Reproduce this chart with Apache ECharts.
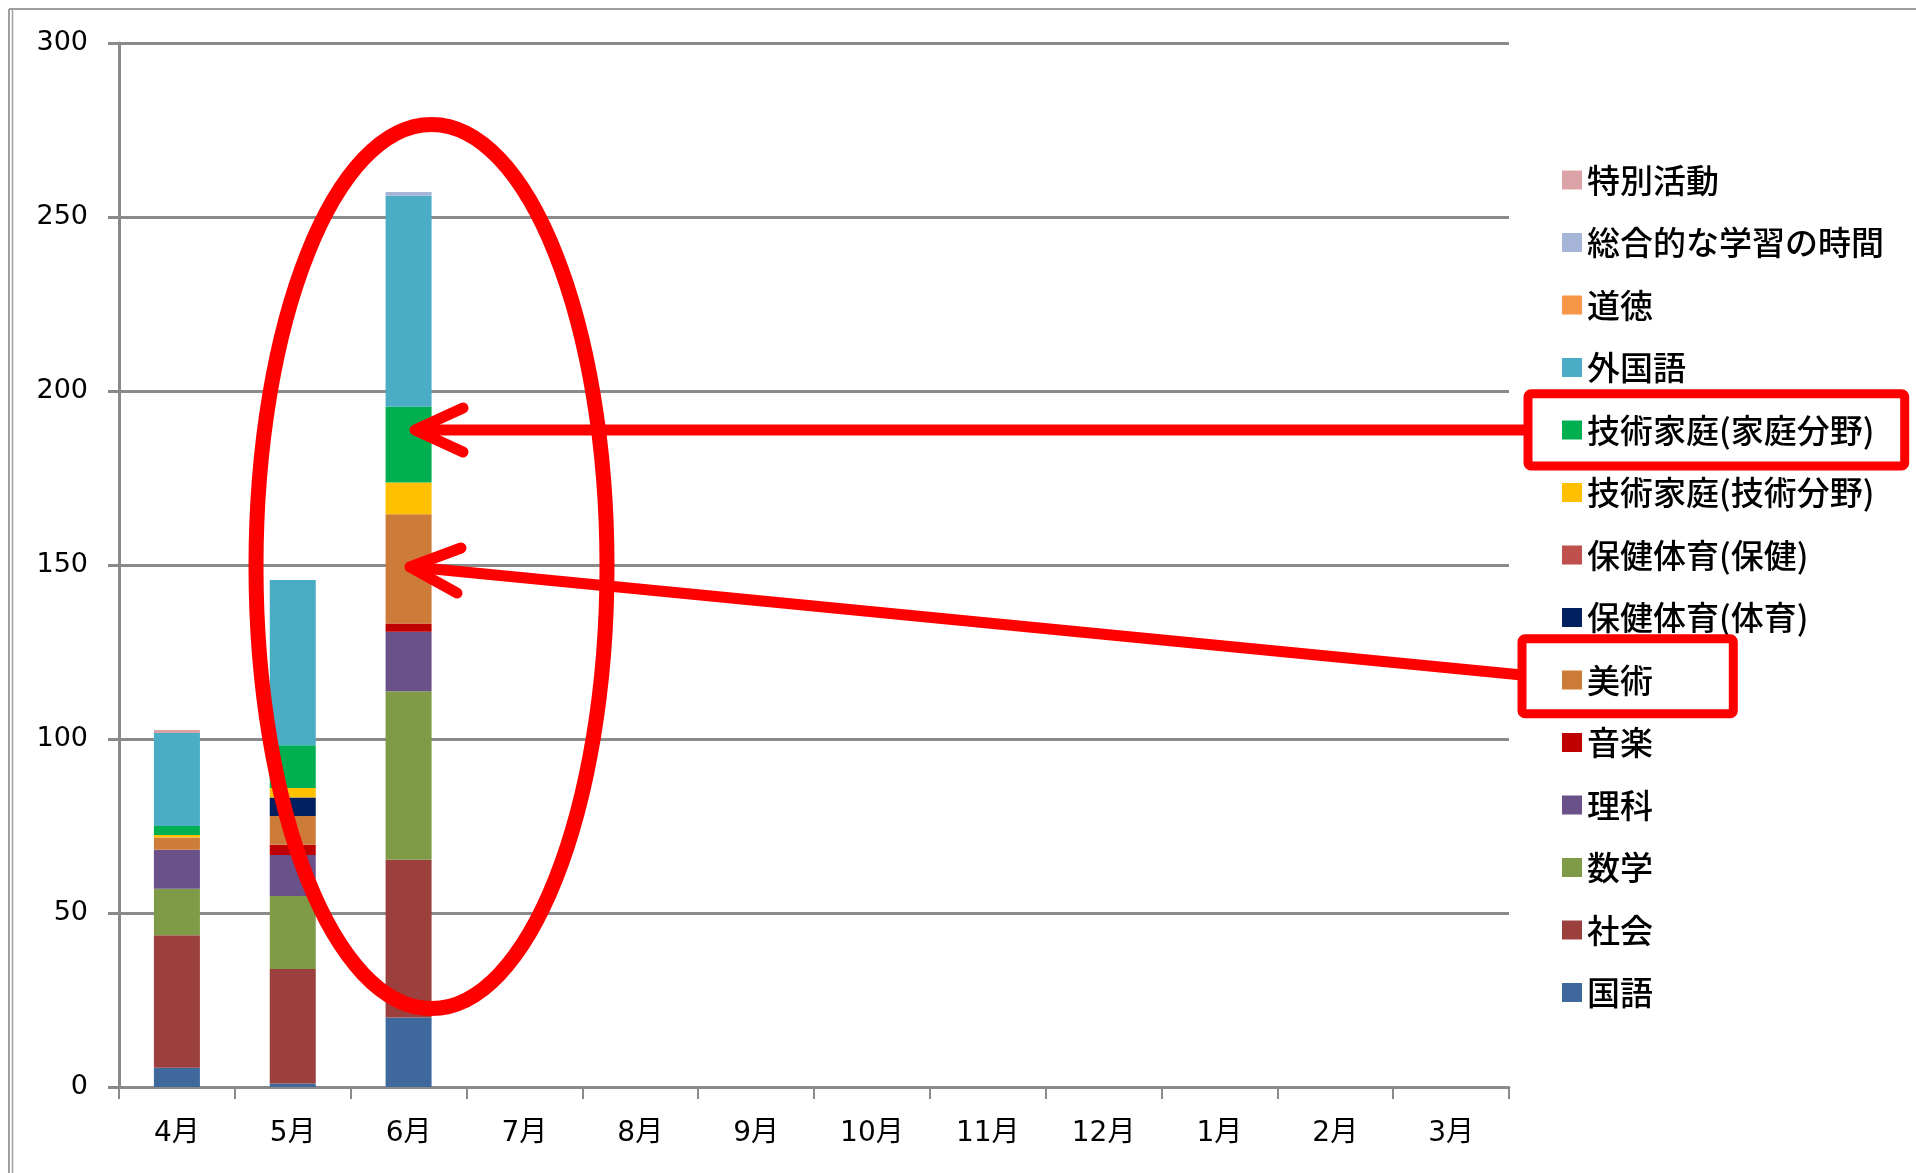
<!DOCTYPE html>
<html>
<head>
<meta charset="utf-8">
<script src="https://cdn.jsdelivr.net/npm/echarts@6/dist/echarts.min.js"></script>
<style>
html,body{margin:0;padding:0;background:#fff;}
#c{width:1916px;height:1173px;}
</style>
</head>
<body>
<div id="c"></div>
<script>
// categories
const months = ['4月','5月','6月','7月','8月','9月','10月','11月','12月','1月','2月','3月'];
// series values (only 4月〜6月 have data)
const kokugo    = [5.5, 1.0, 20.0];
const shakai    = [38.1, 32.9, 45.3];
const sugaku    = [13.4, 21.0, 48.4];
const rika      = [11.2, 11.8, 17.1];
const ongaku    = [0, 2.9, 2.4];
const bijutsu   = [3.5, 8.3, 31.4];
const taiiku    = [0, 5.3, 0];
const hoken     = [0, 0, 0];
const gijutsu   = [0.7, 2.7, 9.1];
const katei     = [2.6, 12.3, 21.8];
const gaikokugo = [26.7, 47.5, 60.6];
const dotoku    = [0, 0, 0];
const sogo      = [0, 0, 1.1];
const tokubetsu = [0.9, 0, 0];
// y ticks
const yMin = 0, yMax = 300, yStep = 50;

const seriesDefs = [
  ['国語', kokugo, '#3F699D'],
  ['社会', shakai, '#9C403E'],
  ['数学', sugaku, '#7F9B47'],
  ['理科', rika, '#6A5189'],
  ['音楽', ongaku, '#C00000'],
  ['美術', bijutsu, '#CD7B38'],
  ['保健体育(体育)', taiiku, '#002060'],
  ['保健体育(保健)', hoken, '#C0504D'],
  ['技術家庭(技術分野)', gijutsu, '#FFC000'],
  ['技術家庭(家庭分野)', katei, '#00B050'],
  ['外国語', gaikokugo, '#4BACC6'],
  ['道徳', dotoku, '#F79646'],
  ['総合的な学習の時間', sogo, '#A5B4D7'],
  ['特別活動', tokubetsu, '#DBA3A8']
];

const chart = echarts.init(document.getElementById('c'), null, {renderer:'canvas'});
const gridCol = '#8A8A8A';
const red = '#FF0000';

const option = {
  backgroundColor: '#ffffff',
  animation: false,
  grid: {left: 119, right: 407, top: 43, bottom: 86, containLabel: false},
  legend: {
    orient: 'vertical',
    left: 1557,
    top: 155,
    itemWidth: 20,
    itemHeight: 19,
    itemGap: 22.5,
    icon: 'rect',
    data: seriesDefs.map(d => d[0]).reverse(),
    textStyle: {fontFamily: '"Noto Sans CJK JP", sans-serif', fontSize: 33, fontWeight: 500, color: '#000', lineHeight: 40}
  },
  xAxis: {
    type: 'category',
    data: months,
    axisLine: {lineStyle: {color: gridCol, width: 3}},
    axisTick: {show: true, length: 12, lineStyle: {color: gridCol, width: 2}},
    axisLabel: {margin: 33, fontSize: 28, color: '#000', fontFamily: '"DejaVu Sans", "Noto Sans CJK JP", sans-serif'}
  },
  yAxis: {
    type: 'value',
    min: yMin, max: yMax, interval: yStep,
    axisLine: {show: true, lineStyle: {color: gridCol, width: 3}},
    axisTick: {show: true, length: 11, lineStyle: {color: gridCol, width: 3}},
    splitLine: {lineStyle: {color: gridCol, width: 3}},
    axisLabel: {margin: 31, fontSize: 27, color: '#000', fontFamily: '"DejaVu Sans", sans-serif', padding: [6, 0, 0, 0]}
  },
  series: seriesDefs.map(d => ({
    name: d[0],
    type: 'bar',
    stack: 'total',
    barWidth: 46,
    data: d[1],
    itemStyle: {color: d[2]},
    emphasis: {disabled: true}
  })),
  graphic: [
    // outer chart frame (Excel chart area border)
    {type: 'line', z: 50, shape: {x1: 9, y1: 9, x2: 1916, y2: 9}, style: {stroke: '#7f7f7f', lineWidth: 1.5}},
    {type: 'line', z: 50, shape: {x1: 9, y1: 9, x2: 9, y2: 1173}, style: {stroke: '#7f7f7f', lineWidth: 1.5}},
    {type: 'line', z: 50, shape: {x1: 12.5, y1: 9, x2: 12.5, y2: 1173}, style: {stroke: '#9f9f9f', lineWidth: 1.5}},
    // annotation: ellipse around June bar
    {type: 'ellipse', z: 100, shape: {cx: 431.5, cy: 566.5, rx: 175.5, ry: 442}, style: {fill: null, stroke: red, lineWidth: 15}},
    // annotation: box around 技術家庭(家庭分野)
    {type: 'rect', z: 100, shape: {x: 1528, y: 393.7, width: 376.7, height: 72.3, r: 3}, style: {fill: null, stroke: red, lineWidth: 9}},
    // annotation: box around 美術
    {type: 'rect', z: 100, shape: {x: 1522, y: 638.8, width: 211.3, height: 75, r: 3}, style: {fill: null, stroke: red, lineWidth: 9}},
    // arrow 1
    {type: 'line', z: 100, shape: {x1: 1528, y1: 430, x2: 418, y2: 430}, style: {stroke: red, lineWidth: 11}},
    {type: 'polyline', z: 100, shape: {points: [[463, 408], [415, 430], [463, 452]]}, style: {stroke: red, lineWidth: 11, lineCap: 'round', lineJoin: 'round', fill: null}},
    // arrow 2
    {type: 'line', z: 100, shape: {x1: 1522, y1: 675, x2: 413, y2: 567}, style: {stroke: red, lineWidth: 11}},
    {type: 'polyline', z: 100, shape: {points: [[461, 548], [410, 567], [457, 593]]}, style: {stroke: red, lineWidth: 11, lineCap: 'round', lineJoin: 'round', fill: null}}
  ]
};
chart.setOption(option);
</script>
</body>
</html>
